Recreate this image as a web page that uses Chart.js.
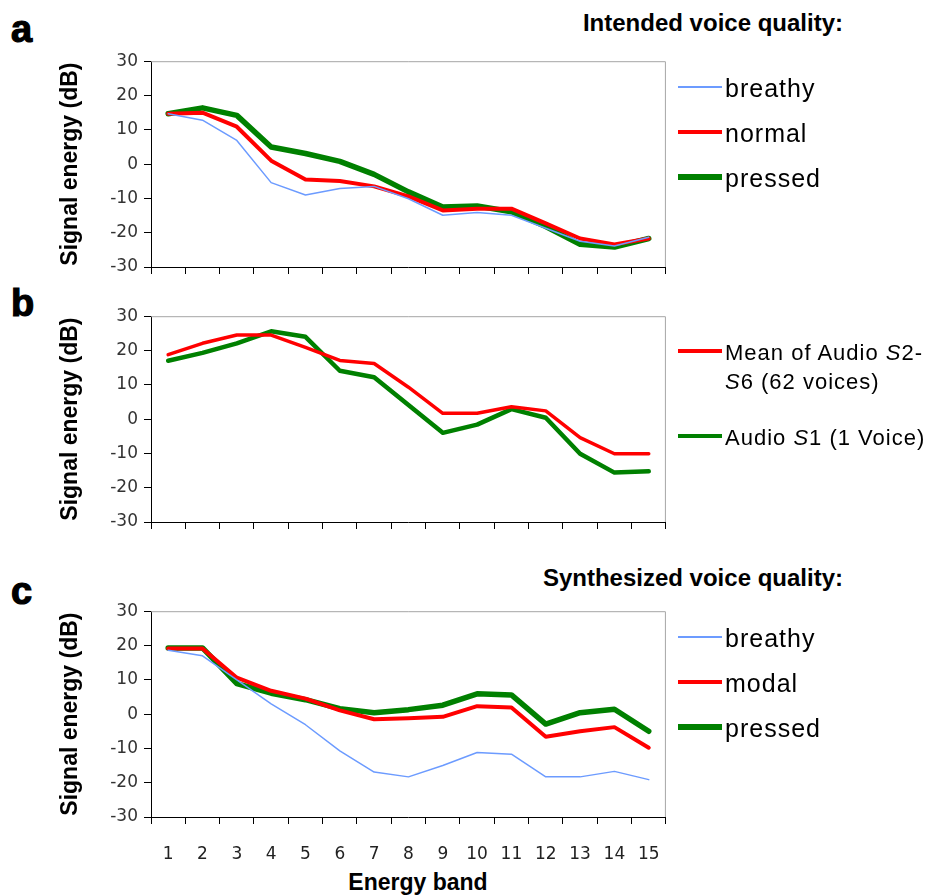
<!DOCTYPE html>
<html>
<head>
<meta charset="utf-8">
<script src="https://cdn.jsdelivr.net/npm/chart.js@4.4.1/dist/chart.umd.min.js"></script>
<style>
  html, body { margin: 0; padding: 0; background: #fff; }
  body { width: 936px; height: 896px; position: relative; overflow: hidden; font-family: 'Liberation Sans', Arial, sans-serif; color: #000; }
  .panel { position: absolute; left: 0; width: 680px; }
  .letter { position: absolute; left: 11px; font: bold 38px/38px 'Liberation Sans', Arial, sans-serif; -webkit-text-stroke: 1.2px #000; }
  .head { position: absolute; right: 93px; font: bold 24px/24px 'Liberation Sans', Arial, sans-serif; white-space: nowrap; }
  .swatch { position: absolute; left: 678px; width: 44px; }
  .ltext { position: absolute; left: 725px; font-size: 24px; line-height: 24px; letter-spacing: 1px; white-space: nowrap; }
  .xtitle { position: absolute; left: 418px; transform: translateX(-50%); font: bold 23px/23px 'Liberation Sans', Arial, sans-serif; white-space: nowrap; }
</style>
</head>
<body>

<div class="letter" style="top:10px">a</div>
<div class="letter" style="top:284px">b</div>
<div class="letter" style="top:572px">c</div>
<div class="head" style="top:11px">Intended voice quality:</div>
<div class="head" style="top:566px">Synthesized voice quality:</div>
<div class="xtitle" style="top:871px">Energy band</div>

<div class="panel" style="top:45px;height:240px"><canvas id="chartA"></canvas></div>
<div class="panel" style="top:300px;height:240px"><canvas id="chartB"></canvas></div>
<div class="panel" style="top:595px;height:270px"><canvas id="chartC"></canvas></div>

<script>
// ---- data ----
const bands = ['1','2','3','4','5','6','7','8','9','10','11','12','13','14','15'];

// a: intended voice quality
const aBreathy = [14.7, 12.8, 6.9, -5.4, -9.0, -7.1, -6.5, -10.1, -14.9, -14.1, -14.9, -18.7, -22.5, -23.9, -21.3];
const aNormal  = [14.7, 15.0, 10.9, 1.0, -4.5, -4.9, -6.5, -9.4, -13.5, -13.0, -13.0, -17.3, -21.7, -23.4, -21.7];
const aPressed = [14.7, 16.4, 14.2, 5.0, 3.1, 0.8, -3.0, -8.1, -12.5, -12.2, -13.9, -18.2, -23.4, -24.2, -21.7];

// b: mean vs single voice
const bMean = [18.8, 22.1, 24.5, 24.5, 20.9, 17.1, 16.2, 9.3, 1.7, 1.7, 3.6, 2.4, -5.4, -10.1, -10.1];
const bS1   = [17.0, 19.3, 22.1, 25.6, 24.0, 14.1, 12.2, 4.1, -4.0, -1.6, 2.9, 0.4, -10.1, -15.6, -15.2];

// c: synthesized voice quality
const cBreathy = [18.6, 17.0, 10.0, 3.0, -3.1, -10.7, -16.9, -18.3, -15.0, -11.2, -11.7, -18.3, -18.3, -16.7, -19.1];
const cModal   = [19.1, 19.1, 10.6, 6.8, 4.5, 1.1, -1.5, -1.2, -0.8, 2.3, 1.9, -6.6, -5.0, -3.8, -9.8];
const cPressed = [19.3, 19.3, 8.9, 6.1, 4.2, 1.6, 0.4, 1.3, 2.6, 5.9, 5.6, -2.9, 0.4, 1.4, -5.0];

const yTicks = [-30, -20, -10, 0, 10, 20, 30];

const BLUE = '#6c9bff', RED = '#ff0000', GREEN = '#008000';

const panels = [
  { canvas: 'chartA', top: 45, height: 240, showX: false, fontSize: 25,
    series: [
      { label: 'breathy', data: aBreathy, color: BLUE,  width: 1.5, ly: 87 },
      { label: 'normal',  data: aNormal,  color: RED,   width: 4,   ly: 132 },
      { label: 'pressed', data: aPressed, color: GREEN, width: 5.5, ly: 177 },
    ] },
  { canvas: 'chartB', top: 300, height: 240, showX: false, fontSize: 22,
    series: [
      { label: 'Mean of Audio S2-\nS6 (62 voices)', data: bMean, color: RED,   width: 3.5, ly: 351 },
      { label: 'Audio S1 (1 Voice)',               data: bS1,   color: GREEN, width: 4.5, ly: 436 },
    ] },
  { canvas: 'chartC', top: 595, height: 270, showX: true, fontSize: 25,
    series: [
      { label: 'breathy', data: cBreathy, color: BLUE,  width: 1.5, ly: 637 },
      { label: 'modal',   data: cModal,   color: RED,   width: 4,   ly: 682 },
      { label: 'pressed', data: cPressed, color: GREEN, width: 5.5, ly: 727 },
    ] },
];

// gray top/right border of the plot area
const frame = {
  id: 'frame',
  beforeDatasetsDraw(chart) {
    const { ctx, chartArea: a } = chart;
    ctx.save();
    ctx.strokeStyle = '#a6a6a6';
    ctx.lineWidth = 1;
    ctx.beginPath();
    ctx.moveTo(a.left, a.top + 0.5);
    ctx.lineTo(a.right - 0.5, a.top + 0.5);
    ctx.lineTo(a.right - 0.5, a.bottom);
    ctx.stroke();
    ctx.restore();
  }
};

function addLegend(p) {
  p.series.forEach(s => {
    const sw = document.createElement('div');
    sw.className = 'swatch';
    sw.style.top = (s.ly - s.width / 2) + 'px';
    sw.style.height = s.width + 'px';
    sw.style.background = s.color;
    document.body.appendChild(sw);

    s.label.split('\n').forEach((line, i) => {
      const t = document.createElement('div');
      t.className = 'ltext';
      t.style.fontSize = p.fontSize + 'px';
      t.style.lineHeight = p.fontSize + 'px';
      t.style.top = (s.ly + 10 - p.fontSize * 0.8465 + i * 29) + 'px';
      t.innerHTML = line.replace(/S(\d)/g, '<i>S</i>$1');
      document.body.appendChild(t);
    });
  });
}

Chart.defaults.font.family = "'DejaVu Sans', Verdana, sans-serif";
Chart.defaults.font.size = 16;
Chart.defaults.color = '#333';

panels.forEach(p => {
  new Chart(document.getElementById(p.canvas), {
    type: 'line',
    data: {
      labels: bands,
      datasets: p.series.map(s => ({
        label: s.label, data: s.data, borderColor: s.color, backgroundColor: s.color,
        borderWidth: s.width, pointRadius: 0, tension: 0, fill: false,
        borderJoinStyle: 'round', borderCapStyle: 'round'
      }))
    },
    options: {
      responsive: true, maintainAspectRatio: false, animation: false,
      events: [],
      layout: { padding: { top: 10, left: 57, right: 13, bottom: 0 } },
      plugins: { legend: { display: false }, tooltip: { enabled: false } },
      scales: {
        x: {
          type: 'category', offset: true,
          grid: { offset: true, drawOnChartArea: false, drawTicks: true, tickLength: 7, color: '#000' },
          border: { color: '#000' },
          ticks: { color: p.showX ? '#222' : 'rgba(0,0,0,0)', padding: 20, autoSkip: false, maxRotation: 0, font: { size: 17 } },
          afterFit: sc => { sc.height = p.height - 10 - 212; }
        },
        y: {
          min: -30, max: 30,
          afterBuildTicks: sc => { sc.ticks = yTicks.map(v => ({ value: v })); },
          grid: { drawOnChartArea: false, drawTicks: true, tickLength: 7, color: '#000' },
          border: { color: '#000' },
          ticks: { color: '#333', padding: 6, font: { size: 17 } },
          title: { display: true, text: 'Signal energy (dB)', color: '#000', padding: 0,
                   font: { family: "'Liberation Sans', Arial, sans-serif", weight: 'bold', size: 23 } },
          afterFit: sc => { sc.width = 151 - 57; }
        }
      }
    },
    plugins: [frame]
  });
  addLegend(p);
});
</script>
</body>
</html>
